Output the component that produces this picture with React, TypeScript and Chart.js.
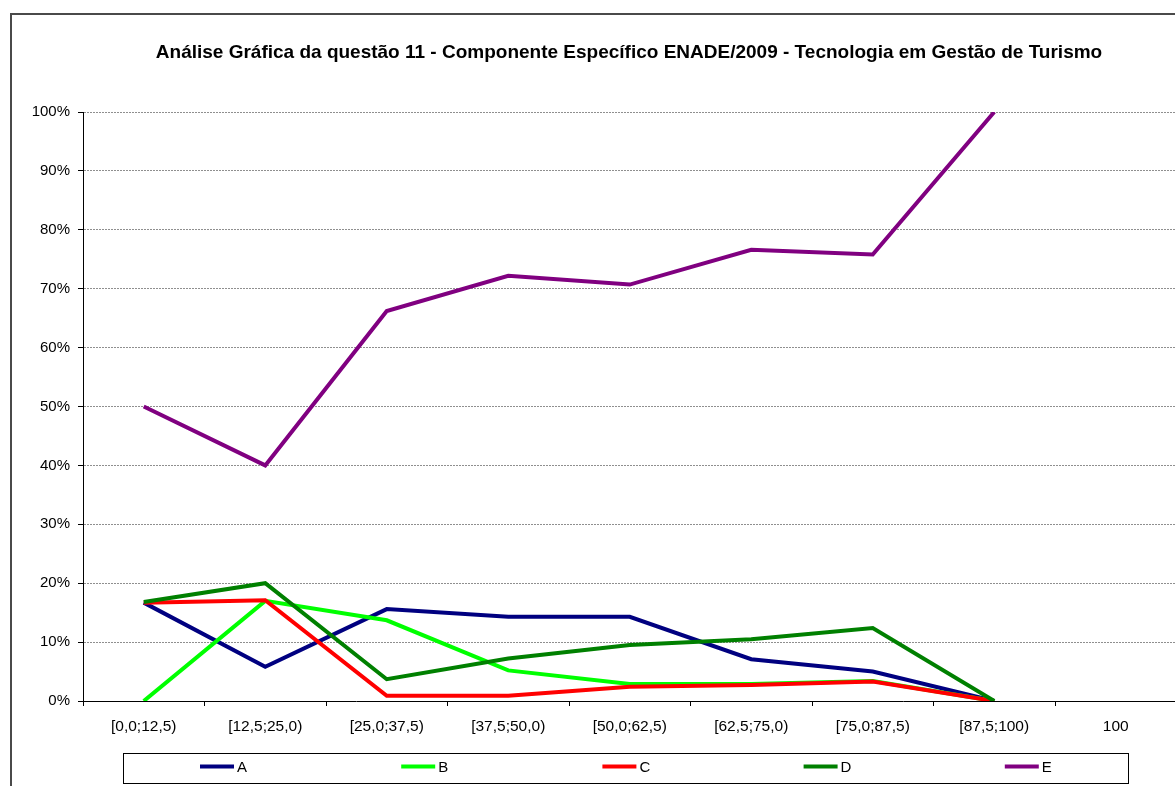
import React, { useEffect, useRef } from 'react';
import { Chart, registerables } from 'chart.js';

Chart.register(...registerables);

const chartTitle =
  'Análise Gráfica da questão 11 - Componente Específico ENADE/2009 - Tecnologia em Gestão de Turismo';

const categories = [
  '[0,0;12,5)',
  '[12,5;25,0)',
  '[25,0;37,5)',
  '[37,5;50,0)',
  '[50,0;62,5)',
  '[62,5;75,0)',
  '[75,0;87,5)',
  '[87,5;100)',
  '100',
];

const seriesLabels = ['A', 'B', 'C', 'D', 'E'];
const seriesA = [16.7, 5.8, 15.6, 14.3, 14.3, 7.1, 5.0, 0, null];
const seriesB = [0, 17.0, 13.7, 5.2, 2.9, 2.9, 3.4, 0, null];
const seriesC = [16.7, 17.1, 0.9, 0.9, 2.4, 2.7, 3.3, 0, null];
const seriesD = [16.8, 20.0, 3.7, 7.2, 9.5, 10.5, 12.4, 0, null];
const seriesE = [50.0, 40.0, 66.2, 72.2, 70.7, 76.6, 75.8, 100, null];
const seriesColors = ['#000080', '#00FF00', '#FF0000', '#008000', '#800080'];

const yMin = 0;
const yMax = 100;
const yStep = 10;

const FONT = 'Arial, "Liberation Sans", sans-serif';
const CANVAS_W = 1240;
const CANVAS_H = 786;

const decorPlugin = {
  id: 'decor',
  afterDraw(chart: any) {
    const ctx = chart.ctx as CanvasRenderingContext2D;
    ctx.save();
    // outer chart frame
    ctx.strokeStyle = '#4a4a4a';
    ctx.lineWidth = 2;
    ctx.strokeRect(11, 14, 1400, 1400);

    // title
    ctx.fillStyle = '#000';
    ctx.font = `bold 19px ${FONT}`;
    ctx.textAlign = 'center';
    ctx.textBaseline = 'alphabetic';
    ctx.fillText(chartTitle, 629, 58);

    // legend
    const boxL = 123;
    const boxT = 753;
    const boxR = 1128;
    const boxB = 783;
    ctx.fillStyle = '#fff';
    ctx.fillRect(boxL, boxT, boxR - boxL, boxB - boxT);
    ctx.strokeStyle = '#000';
    ctx.lineWidth = 1;
    ctx.strokeRect(boxL + 0.5, boxT + 0.5, boxR - boxL, boxB - boxT);
    const ds = chart.data.datasets;
    const step = 201.2;
    const midY = 766.5;
    ctx.font = `15px ${FONT}`;
    ctx.textAlign = 'left';
    ctx.textBaseline = 'middle';
    for (let i = 0; i < ds.length; i++) {
      const x0 = 200 + i * step;
      ctx.strokeStyle = ds[i].borderColor;
      ctx.lineWidth = 4;
      ctx.beginPath();
      ctx.moveTo(x0, midY);
      ctx.lineTo(x0 + 34, midY);
      ctx.stroke();
      ctx.fillStyle = '#000';
      ctx.fillText(ds[i].label, x0 + 37, midY + 1);
    }
    ctx.restore();
  },
};

export default function App() {
  const canvasRef = useRef<HTMLCanvasElement | null>(null);

  useEffect(() => {
    const canvas = canvasRef.current;
    if (!canvas) return;
    const allSeries = [seriesA, seriesB, seriesC, seriesD, seriesE];
    const datasets = allSeries.map((data, i) => ({
      label: seriesLabels[i],
      data,
      borderColor: seriesColors[i],
      backgroundColor: seriesColors[i],
      borderWidth: 4,
      pointRadius: 0,
      pointHoverRadius: 0,
      tension: 0,
      fill: false,
      spanGaps: false,
      order: allSeries.length - i,
    }));

    const chart = new Chart(canvas, {
      type: 'line',
      data: { labels: categories, datasets },
      options: {
        responsive: false,
        animation: false,
        events: [],
        layout: {
          padding: { top: 112, right: CANVAS_W - 1176.5, bottom: 0, left: 0 },
        },
        plugins: {
          legend: { display: false },
          title: { display: false },
          tooltip: { enabled: false },
        },
        scales: {
          x: {
            type: 'category',
            offset: true,
            grid: {
              offset: true,
              drawOnChartArea: false,
              drawTicks: true,
              tickLength: 5,
              color: '#000',
              tickColor: '#000',
            },
            border: { display: true, color: '#000', width: 1 },
            ticks: {
              color: '#000',
              font: { family: FONT, size: 15.5 },
              padding: 11,
              maxRotation: 0,
              autoSkip: false,
            },
            afterFit(scale: any) {
              scale.height = 85;
            },
          },
          y: {
            min: yMin,
            max: yMax,
            grid: {
              drawTicks: true,
              tickLength: 5,
              color: (c: any) => (c.tick && c.tick.value === yMin ? 'rgba(0,0,0,0)' : '#8f8f8f'),
              tickColor: '#000',
              tickBorderDash: [],
              lineWidth: 1,
            },
            border: { display: true, color: '#000', width: 1, dash: [2, 1] },
            ticks: {
              stepSize: yStep,
              color: '#000',
              font: { family: FONT, size: 15 },
              padding: 8,
              callback: (v: any) => `${v}%`,
            },
            afterFit(scale: any) {
              scale.width = 83;
            },
          },
        },
      },
      plugins: [decorPlugin],
    });
    return () => chart.destroy();
  }, []);

  return (
    <div
      style={{
        position: 'fixed',
        left: 0,
        top: 0,
        width: 1175,
        height: 786,
        overflow: 'hidden',
        background: '#fff',
      }}
    >
      <canvas
        ref={canvasRef}
        width={CANVAS_W}
        height={CANVAS_H}
        style={{ display: 'block', width: CANVAS_W, height: CANVAS_H }}
      />
    </div>
  );
}
